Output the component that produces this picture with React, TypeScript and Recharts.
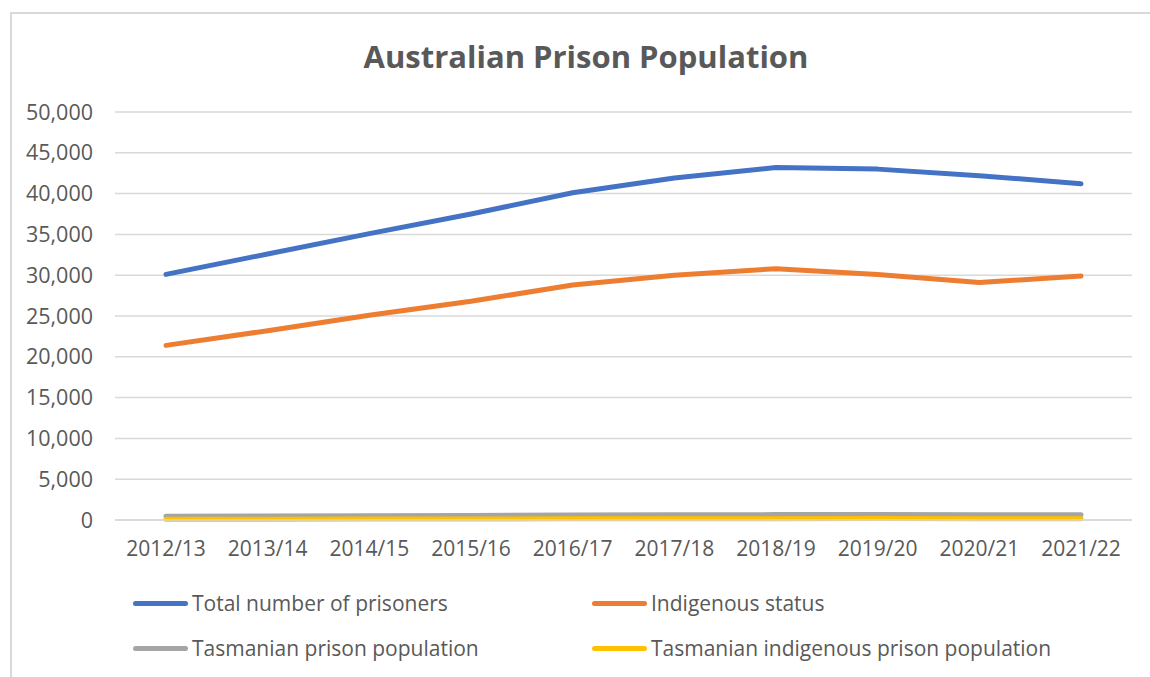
import React from "react"
import { LineChart, Line, XAxis, YAxis, CartesianGrid } from "recharts"

const years = ["2012/13", "2013/14", "2014/15", "2015/16", "2016/17", "2017/18", "2018/19", "2019/20", "2020/21", "2021/22"]
const totalPrisoners = [30100, 32600, 35100, 37500, 40100, 41900, 43200, 43000, 42200, 41200]
const indigenousStatus = [21400, 23200, 25100, 26800, 28800, 30000, 30800, 30100, 29100, 29900]
const tasPrison = [470, 480, 510, 550, 600, 630, 660, 670, 640, 640]
const tasIndigenous = [90, 100, 110, 120, 140, 150, 160, 170, 160, 160]
const yTicks = [0, 5000, 10000, 15000, 20000, 25000, 30000, 35000, 40000, 45000, 50000]

const seriesInfo = [
  { key: "total", name: "Total number of prisoners", color: "#4472C4" },
  { key: "indigenous", name: "Indigenous status", color: "#ED7D31" },
  { key: "tasPrison", name: "Tasmanian prison population", color: "#A5A5A5" },
  { key: "tasIndigenous", name: "Tasmanian indigenous prison population", color: "#FFC000" },
]

const data = years.map((y, i) => ({
  year: y,
  total: totalPrisoners[i],
  indigenous: indigenousStatus[i],
  tasPrison: tasPrison[i],
  tasIndigenous: tasIndigenous[i],
}))

const font = "'Open Sans', 'Noto Sans', sans-serif"
const textColor = "#595959"
const gridColor = "#d9d9d9"

export default function App() {
  return (
    <div style={{ position: "absolute", left: 0, top: 0, width: 1150, height: 677, background: "#fff", fontFamily: font }}>
      <div
        style={{
          position: "absolute",
          left: 10,
          top: 12,
          right: 0,
          bottom: 0,
          borderLeft: `2px solid ${gridColor}`,
          borderTop: `2px solid ${gridColor}`,
        }}
      />
      <div
        style={{
          position: "absolute",
          left: 0,
          top: 35,
          width: 1172,
          textAlign: "center",
          fontSize: 31,
          fontWeight: 700,
          color: textColor,
        }}
      >
        Australian Prison Population
      </div>
      <div style={{ position: "absolute", left: 0, top: 0 }}>
        <LineChart width={1150} height={677} data={data} margin={{ top: 112, right: 18, left: 0, bottom: 97 }}>
          <CartesianGrid vertical={false} stroke={gridColor} strokeWidth={1.5} />
          <XAxis
            dataKey="year"
            height={60}
            padding={{ left: 51, right: 51 }}
            axisLine={{ stroke: gridColor, strokeWidth: 1.5 }}
            tickLine={false}
            tickSize={0}
            tickMargin={21}
            interval={0}
            tick={{ fill: textColor, fontSize: 21, fontFamily: font }}
          />
          <YAxis
            width={115}
            domain={[0, 50000]}
            ticks={yTicks}
            interval={0}
            axisLine={false}
            tickLine={false}
            tickSize={0}
            tickMargin={22}
            tickFormatter={(v) => Number(v).toLocaleString("en-US")}
            tick={{ fill: textColor, fontSize: 21.5, fontFamily: font }}
          />
          {seriesInfo.map((s) => (
            <Line
              key={s.key}
              type="linear"
              dataKey={s.key}
              name={s.name}
              stroke={s.color}
              strokeWidth={5}
              strokeLinecap="round"
              strokeLinejoin="round"
              dot={false}
              activeDot={false}
              isAnimationActive={false}
            />
          ))}
        </LineChart>
      </div>
      {seriesInfo.map((s, i) => (
        <div
          key={s.key}
          style={{
            position: "absolute",
            left: i % 2 === 0 ? 133 : 592,
            top: i < 2 ? 589 : 634,
            display: "flex",
            alignItems: "center",
            fontSize: 21,
            color: textColor,
            whiteSpace: "nowrap",
          }}
        >
          <span style={{ display: "inline-block", width: 55, height: 5, borderRadius: 3, background: s.color, marginRight: 4 }} />
          {s.name}
        </div>
      ))}
    </div>
  )
}
